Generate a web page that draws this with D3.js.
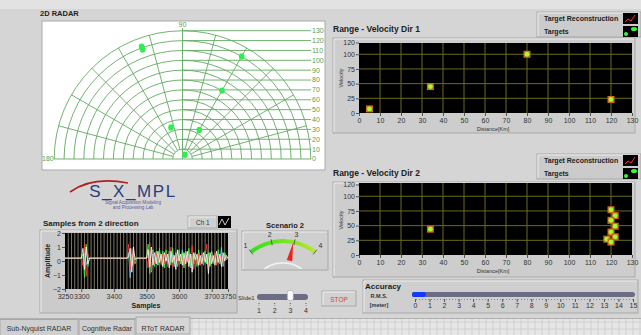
<!DOCTYPE html>
<html>
<head>
<meta charset="utf-8">
<script src="https://cdn.jsdelivr.net/npm/d3@7"></script>
<style>
  body { margin: 0; background: #d5d5d5; }
  svg { display: block; font-family: "Liberation Sans", Arial, sans-serif; }
</style>
</head>
<body>
<div id="panel"></div>
<script>
// ---- data ----
const radarRings = [10, 20, 30, 40, 50, 60, 70, 80, 90, 100, 110, 120, 130];
const radarLabels = [0, 10, 20, 30, 40, 50, 60, 70, 80, 90, 100, 110, 120, 130];
const radarSpokes = [15, 30, 45, 60, 75, 105, 120, 135, 150, 165];
const radarAngle = [60, 60, 60, 60, 110, 110, 110];
const radarRange = [5, 34, 80, 120, 34, 118, 121];

const rvXTicks = [0, 10, 20, 30, 40, 50, 60, 70, 80, 90, 100, 110, 120, 130];
const rvYTicks = [0, 25, 50, 75, 100, 120];
const dir1Dist = [5, 34, 80, 120];
const dir1Vel = [7, 45, 100, 23];
const dir2Dist = [34, 120, 122, 120, 122, 120, 122, 118, 120];
const dir2Vel = [44, 77, 67, 59, 49, 39, 31, 27, 22];

const wfXTicks = [3250, 3300, 3400, 3500, 3600, 3700, 3750];
const wfYTicks = [-2, -1, 0, 1, 2];
const wfGrid = [3260, 3270, 3280, 3290, 3300, 3310, 3320, 3330, 3340, 3350, 3360, 3370, 3380, 3390, 3400,
  3410, 3420, 3430, 3440, 3450, 3460, 3470, 3480, 3490, 3500, 3510, 3520, 3530, 3540, 3550, 3560, 3570,
  3580, 3590, 3600, 3610, 3620, 3630, 3640, 3650, 3660, 3670, 3680, 3690, 3700, 3710, 3720, 3730, 3740];
const wfSamples = [
  3250, 3255, 3260, 3265, 3270, 3275, 3280, 3285, 3290, 3295,
  3300, 3305, 3310, 3315, 3320, 3325, 3330, 3335, 3340, 3345,
  3350, 3355, 3360, 3365, 3370, 3375, 3380, 3385, 3390, 3395,
  3400, 3405, 3410, 3415, 3420, 3425, 3430, 3435, 3440, 3445,
  3450, 3455, 3460, 3465, 3470, 3475, 3480, 3485, 3490, 3495,
  3500, 3505, 3510, 3515, 3520, 3525, 3530, 3535, 3540, 3545,
  3550, 3555, 3560, 3565, 3570, 3575, 3580, 3585, 3590, 3595,
  3600, 3605, 3610, 3615, 3620, 3625, 3630, 3635, 3640, 3645,
  3650, 3655, 3660, 3665, 3670, 3675, 3680, 3685, 3690, 3695,
  3700, 3705, 3710, 3715, 3720, 3725, 3730, 3735, 3740, 3745,
  3750];
const wfCyan = [
  0.2, 0.2, 0.2, 0.2, 0.2, 0.2, 0.2, 0.2, 0.2, 0.2,
  0.2, 0.2, 0.6, -0.3, 0.2, 0.2, 0.2, 0.2, 0.2, 0.2,
  0.2, 0.2, 0.2, 0.2, 0.2, 0.2, 0.2, 0.2, 0.2, 0.2,
  0.2, 0.2, 0.2, 0.2, 0.2, 0.2, 0.2, 0.2, 0.2, 0.6,
  -1.2, 0.5, -0.3, 0.2, 0.2, 0.2, 0.2, 0.2, 0.2, 0.2,
  0.2, 0.3, 0.7, -0.8, 0.5, -0.2, 0.4, -0.3, 0.6, 0.0,
  0.5, -0.3, 0.4, -0.2, 0.7, -0.1, 0.5, -0.4, 0.6, 0.0,
  0.4, -0.2, 0.8, -0.3, 0.5, -0.1, 0.6, -0.5, 0.4, 0.1,
  0.5, -0.2, 0.6, -0.3, 0.4, 0.0, 0.7, -0.2, 0.5, -0.3,
  0.6, -0.1, 0.4, -0.2, 0.5, 0.0, 1.0, -0.4, 0.5, 0.1,
  0.2];
const wfGreen = [
  0.2, 0.2, 0.2, 0.2, 0.2, 0.2, 0.2, 0.2, 0.2, 0.2,
  0.2, 0.5, -1.2, 1.2, -0.4, 0.2, 0.2, 0.2, 0.2, 0.2,
  0.2, 0.2, 0.2, 0.2, 0.2, 0.2, 0.2, 0.2, 0.2, 0.2,
  0.2, 0.2, 0.2, 0.2, 0.2, 0.2, 0.2, 0.2, 0.2, 0.2,
  0.5, -0.4, 0.7, -0.2, 0.2, 0.2, 0.2, 0.2, 0.2, 0.2,
  0.2, 1.2, -0.9, 0.6, 0.8, -0.4, 0.7, -0.3, 0.9, -0.2,
  0.7, -0.5, 0.8, -0.1, 0.6, -0.3, 0.9, -0.2, 0.5, -0.4,
  0.8, -0.2, 0.6, -0.5, 0.7, 0.0, 0.9, -0.3, 0.5, -0.2,
  0.6, -0.4, 0.8, -0.1, 0.5, -0.3, 0.7, -0.2, 0.6, -0.4,
  0.7, -0.1, 0.5, -0.3, 0.8, -0.2, 0.4, -0.1, 0.6, 0.2,
  0.2];
const wfRed = [
  0.2, 0.2, 0.2, 0.2, 0.2, 0.2, 0.2, 0.2, 0.2, 0.2,
  0.2, -0.3, 1.3, -1.1, 0.5, 0.2, 0.2, 0.2, 0.2, 0.2,
  0.2, 0.2, 0.2, 0.2, 0.2, 0.2, 0.2, 0.2, 0.2, 0.2,
  0.2, 0.2, 0.2, 0.2, 0.2, 0.2, 0.2, 0.2, 0.2, 1.2,
  -0.6, 0.9, -0.4, 0.3, 0.2, 0.2, 0.2, 0.2, 0.2, 0.2,
  0.2, -0.5, 1.3, -0.7, 0.4, -0.2, 0.5, 0.0, 0.4, -0.3,
  0.5, -0.2, 0.6, -0.4, 0.3, 1.0, -0.5, 0.4, -0.2, 0.6,
  -0.3, 0.5, -0.1, 0.4, -0.5, 0.6, 0.0, 0.3, 1.1, -0.6,
  0.4, -0.2, 0.5, -0.3, 0.6, -0.1, 0.4, 1.2, -0.4, 0.3,
  0.5, -0.2, 0.6, -0.3, 0.4, 0.0, 0.5, -0.2, 0.3, 0.2,
  0.2];
const wfWhite = [
  0.2, 0.2, 0.2, 0.2, 0.2, 0.2, 0.2, 0.2, 0.2, 0.2,
  0.2, 0.9, -0.6, 1.0, -0.2, 0.2, 0.2, 0.2, 0.2, 0.2,
  0.2, 0.2, 0.2, 0.2, 0.2, 0.2, 0.2, 0.2, 0.2, 0.2,
  0.2, 0.2, 0.2, 0.2, 0.2, 0.2, 0.2, 0.2, 0.2, 0.3,
  0.9, -0.8, 1.0, 0.1, 0.2, 0.2, 0.2, 0.2, 0.2, 0.2,
  0.2, 0.8, -0.4, 1.0, -0.3, 0.6, -0.2, 0.7, -0.1, 0.5,
  -0.4, 0.6, 0.0, 0.5, -0.5, 0.7, -0.1, 0.4, -0.6, 0.8,
  0.0, 0.5, -0.3, 0.6, -0.2, 0.7, -0.4, 0.5, -0.8, 0.6,
  0.1, 0.5, -0.3, 0.4, -0.2, 0.6, -0.1, 0.5, -0.9, 0.6,
  -0.2, 0.4, -0.3, 0.7, -0.1, 0.5, -0.4, 0.6, 0.0, 0.4,
  0.2];

const gaugeTicks = [1, 2, 3, 4];
const gaugeValue = 2.95;
const sliderTicks = [1, 2, 3, 4];
const sliderValue = 3;
const accTicks = [0, 1, 2, 3, 4, 5, 6, 7, 8, 9, 10, 11, 12, 13, 14, 15];
const accValue = 0.75;
const tabNames = ["Sub-Nyquist RADAR", "Cognitive Radar", "RToT RADAR"];

// ---- canvas ----
const svg = d3.select("#panel").append("svg").attr("width", 641).attr("height", 335);
svg.append("rect").attr("width", 641).attr("height", 335).attr("fill", "#d5d5d5");
svg.append("rect").attr("width", 641).attr("height", 9).attr("fill", "#e2e2e2");

const defs = svg.append("defs");

function bevelBox(g, x, y, w, h, fill) {
  g.append("rect").attr("x", x).attr("y", y).attr("width", w).attr("height", h)
    .attr("fill", fill).attr("stroke", "#a9a9a9");
  g.append("path").attr("d", `M${x + 1},${y + h - 1}V${y + 1}H${x + w - 1}`)
    .attr("fill", "none").attr("stroke", "#eeeeee");
}

// ---- 2D radar ----
const radar = svg.append("g");
radar.append("text").attr("x", 40).attr("y", 16).attr("font-size", 7.5).attr("font-weight", "bold")
  .attr("fill", "#222").text("2D RADAR");
radar.append("rect").attr("x", 42).attr("y", 21).attr("width", 283).attr("height", 149)
  .attr("fill", "#fff").attr("stroke", "#aaa");
const cx = 182.5, cy = 159;
const rS = d3.scaleLinear().domain([0, 130]).range([0, 128.3]);
const gridCol = "#63a963";
const xEnd = 311;
const px = (a, r) => cx + rS(r) * Math.cos(a * Math.PI / 180);
const py = (a, r) => cy - rS(r) * Math.sin(a * Math.PI / 180);

radar.append("g").selectAll("line").data(radarLabels).join("line")
  .attr("x1", d => d === 0 ? cx - rS(130) : cx).attr("x2", xEnd)
  .attr("y1", d => cy - rS(d)).attr("y2", d => cy - rS(d))
  .attr("stroke", gridCol).attr("stroke-width", 0.9);
radar.append("g").selectAll("path").data(radarRings).join("path")
  .attr("d", d => `M${cx - rS(d)},${cy}A${rS(d)},${rS(d)} 0 0 1 ${cx + rS(d)},${cy}`)
  .attr("fill", "none").attr("stroke", gridCol).attr("stroke-width", 0.9);
radar.append("g").selectAll("line").data(radarSpokes).join("line")
  .attr("x1", d => px(d, 10)).attr("y1", d => py(d, 10))
  .attr("x2", d => px(d, 130)).attr("y2", d => py(d, 130))
  .attr("stroke", gridCol).attr("stroke-width", 0.9);
radar.append("line").attr("x1", cx).attr("x2", cx).attr("y1", cy).attr("y2", 28)
  .attr("stroke", gridCol).attr("stroke-width", 0.9);
radar.append("g").selectAll("text").data(radarLabels).join("text")
  .attr("x", xEnd + 1).attr("y", d => cy - rS(d)).attr("dy", "0.35em")
  .attr("font-size", 7).attr("fill", "#55a055").text(d => d);
radar.append("text").attr("x", cx).attr("y", 27).attr("text-anchor", "middle")
  .attr("font-size", 7).attr("fill", "#55a055").text("90");
radar.append("text").attr("x", 42).attr("y", cy).attr("dy", "0.35em")
  .attr("font-size", 7).attr("fill", "#55a055").text("180");
radar.append("g").selectAll("ellipse").data(radarAngle).join("ellipse")
  .attr("cx", (d, i) => px(d, radarRange[i])).attr("cy", (d, i) => py(d, radarRange[i]))
  .attr("rx", 2.8).attr("ry", 3.2).attr("fill", "#2cf050");

// ---- range / velocity charts ----
function legend(y) {
  const g = svg.append("g");
  bevelBox(g, 537, y, 104, 25, "#cbcbcb");
  g.append("text").attr("x", 544).attr("y", y + 9).attr("font-size", 7).attr("font-weight", "bold")
    .attr("fill", "#222").text("Target Reconstruction");
  g.append("text").attr("x", 544).attr("y", y + 22).attr("font-size", 7).attr("font-weight", "bold")
    .attr("fill", "#222").text("Targets");
  g.append("rect").attr("x", 623).attr("y", y + 1).attr("width", 15).attr("height", 11).attr("fill", "#000");
  g.append("polyline").attr("points", `625,${y + 10} 628,${y + 7} 631,${y + 9} 635,${y + 3}`)
    .attr("fill", "none").attr("stroke", "#ff3030").attr("stroke-width", 1);
  g.append("rect").attr("x", 623).attr("y", y + 14).attr("width", 15).attr("height", 11).attr("fill", "#000");
  g.append("circle").attr("cx", 626).attr("cy", y + 22).attr("r", 2).attr("fill", "#30ff30");
  g.append("ellipse").attr("cx", 634).attr("cy", y + 17).attr("rx", 3).attr("ry", 2).attr("fill", "#30ff30");
}

function rvChart(title, titleY, frameY, plotTop, plotBottom, dist, vel) {
  const g = svg.append("g");
  g.append("text").attr("x", 333).attr("y", titleY).attr("font-size", 8.5).attr("font-weight", "bold")
    .attr("fill", "#222").text(title);
  bevelBox(g, 333, frameY, 302, 95, "#cdcdcd");
  const x = d3.scaleLinear().domain([0, 130]).range([359, 632]);
  const y = d3.scaleLinear().domain([0, 120]).range([plotBottom, plotBottom - 70.5]);
  g.append("rect").attr("x", 359).attr("y", plotTop).attr("width", 273).attr("height", plotBottom - plotTop)
    .attr("fill", "#000");
  g.append("g").selectAll("line").data(rvXTicks.slice(1, -1)).join("line")
    .attr("x1", d => x(d)).attr("x2", d => x(d)).attr("y1", plotTop).attr("y2", plotBottom)
    .attr("stroke", "#6a6a22").attr("stroke-width", 1);
  g.append("g").selectAll("line").data(rvYTicks.slice(1, -1)).join("line")
    .attr("x1", 359).attr("x2", 632).attr("y1", d => y(d)).attr("y2", d => y(d))
    .attr("stroke", "#6a6a22").attr("stroke-width", 1);
  const ax = g.append("g").attr("transform", `translate(0,${plotBottom})`)
    .call(d3.axisBottom(x).tickValues(rvXTicks).tickSize(3).tickPadding(2));
  const ay = g.append("g").attr("transform", "translate(359,0)")
    .call(d3.axisLeft(y).tickValues(rvYTicks).tickSize(3).tickPadding(1));
  [ax, ay].forEach(a => {
    a.select(".domain").remove();
    a.selectAll("text").attr("font-size", 7).attr("fill", "#333").attr("font-family", "Liberation Sans, Arial");
    a.selectAll("line").attr("stroke", "#555");
  });
  g.append("text").attr("x", 493).attr("y", plotBottom + 17.5).attr("text-anchor", "middle")
    .attr("font-size", 5.5).attr("fill", "#333").text("Distance[Km]");
  g.append("text").attr("transform", `translate(343,${plotBottom - 35}) rotate(-90)`)
    .attr("text-anchor", "middle").attr("font-size", 5.5).attr("fill", "#333").text("Velocity");
  const m = g.append("g").selectAll("g").data(dist).join("g")
    .attr("transform", (d, i) => `translate(${x(d)},${y(vel[i])})`);
  m.append("rect").attr("x", -3.5).attr("y", -3.5).attr("width", 7).attr("height", 7).attr("fill", "#cf6a1c");
  m.append("circle").attr("r", 2.4).attr("fill", "#9cff30");
}
legend(12);
rvChart("Range - Velocity Dir 1", 32, 38, 43, 113, dir1Dist, dir1Vel);
legend(154);
rvChart("Range - Velocity Dir 2", 176, 182, 183, 255, dir2Dist, dir2Vel);

// ---- logo ----
const logo = svg.append("g");
logo.append("path").attr("d", "M70,192 Q92,176 128,183").attr("fill", "none")
  .attr("stroke", "#b02020").attr("stroke-width", 1.6);
logo.append("text").attr("x", 133).attr("y", 197).attr("text-anchor", "middle").attr("font-size", 17)
  .attr("fill", "#2b3d7c").attr("letter-spacing", 1.6).text("S_X_MPL");
logo.append("text").attr("x", 133).attr("y", 203.5).attr("text-anchor", "middle").attr("font-size", 4.6)
  .attr("fill", "#5a5a9a").text("Signal Acquisition Modeling");
logo.append("text").attr("x", 133).attr("y", 208.5).attr("text-anchor", "middle").attr("font-size", 4.6)
  .attr("fill", "#5a5a9a").text("and Processing Lab");

// ---- waveform ----
const wf = svg.append("g");
wf.append("text").attr("x", 43).attr("y", 226).attr("font-size", 8).attr("font-weight", "bold")
  .attr("fill", "#222").text("Samples from 2 direction");
bevelBox(wf, 188, 216, 29, 12, "#d0d0d0");
wf.append("text").attr("x", 196).attr("y", 225).attr("font-size", 6.5).attr("fill", "#333").text("Ch 1");
wf.append("rect").attr("x", 218).attr("y", 216).attr("width", 13).attr("height", 12).attr("fill", "#000");
wf.append("polyline").attr("points", "219,225 222,219 225,225 229,218").attr("fill", "none")
  .attr("stroke", "#fff").attr("stroke-width", 0.8);
bevelBox(wf, 40, 230, 197, 83, "#cbcbcb");
const wx = d3.scaleLinear().domain([3250, 3750]).range([65, 228]);
const wy = d3.scaleLinear().domain([-2, 2]).range([289, 233]);
wf.append("rect").attr("x", 65).attr("y", 233).attr("width", 163).attr("height", 56).attr("fill", "#000");
wf.append("g").selectAll("line").data(wfGrid).join("line")
  .attr("x1", d => wx(d)).attr("x2", d => wx(d)).attr("y1", 233).attr("y2", 289)
  .attr("stroke", "#9c9680").attr("stroke-width", 0.8);
const wline = d3.line().x((d, i) => wx(wfSamples[i])).y(d => wy(d));
[[wfCyan, "#7fc8ff"], [wfGreen, "#36ff36"], [wfRed, "#ff3a3a"], [wfWhite, "#ffffff"]].forEach(([vals, c]) => {
  wf.append("path").attr("d", wline(vals)).attr("fill", "none").attr("stroke", c).attr("stroke-width", 0.8);
});
const wax = wf.append("g").attr("transform", "translate(0,289)")
  .call(d3.axisBottom(wx).tickValues(wfXTicks).tickSize(3).tickPadding(2).tickFormat(d3.format("d")));
const way = wf.append("g").attr("transform", "translate(65,0)")
  .call(d3.axisLeft(wy).tickValues(wfYTicks).tickSize(3).tickPadding(1).tickFormat(d3.format("d")));
[wax, way].forEach(a => {
  a.select(".domain").remove();
  a.selectAll("text").attr("font-size", 7).attr("fill", "#333").attr("font-family", "Liberation Sans, Arial");
  a.selectAll("line").attr("stroke", "#555");
});
wf.append("text").attr("x", 146).attr("y", 308).attr("text-anchor", "middle").attr("font-size", 7)
  .attr("font-weight", "bold").attr("fill", "#222").text("Samples");
wf.append("text").attr("transform", "translate(50,261) rotate(-90)").attr("text-anchor", "middle")
  .attr("font-size", 7).attr("font-weight", "bold").attr("fill", "#222").text("Amplitude");

// ---- gauge ----
const gg = svg.append("g");
gg.append("text").attr("x", 285).attr("y", 228).attr("text-anchor", "middle").attr("font-size", 7.5)
  .attr("font-weight", "bold").attr("fill", "#222").text("Scenario 2");
bevelBox(gg, 242, 231, 86, 39, "#cfcfcf");
defs.append("clipPath").attr("id", "gclip").append("rect")
  .attr("x", 243).attr("y", 232).attr("width", 84).attr("height", 37);
const grad = defs.append("linearGradient").attr("id", "ggrad");
grad.append("stop").attr("offset", "0%").attr("stop-color", "#2ee01a");
grad.append("stop").attr("offset", "100%").attr("stop-color", "#b8e82a");
const gcx = 283, gcy = 293;
const ga = d3.scaleLinear().domain([1, 4]).range([-38, 38]);
const gin = gg.append("g").attr("clip-path", "url(#gclip)");
gin.append("path").attr("transform", `translate(${gcx},${gcy})`)
  .attr("d", d3.arc()({ innerRadius: 50, outerRadius: 54, startAngle: ga(1) * Math.PI / 180, endAngle: ga(4) * Math.PI / 180 }))
  .attr("fill", "url(#ggrad)");
gin.append("path").attr("d", `M${gcx - 22},${gcy - 21}A31,31 0 0 1 ${gcx + 22},${gcy - 21}`)
  .attr("fill", "none").attr("stroke", "#f2f2f2").attr("stroke-width", 1.6);
gin.selectAll("line.tk").data(gaugeTicks).join("line")
  .attr("x1", d => gcx + 49 * Math.sin(ga(d) * Math.PI / 180)).attr("y1", d => gcy - 49 * Math.cos(ga(d) * Math.PI / 180))
  .attr("x2", d => gcx + 55 * Math.sin(ga(d) * Math.PI / 180)).attr("y2", d => gcy - 55 * Math.cos(ga(d) * Math.PI / 180))
  .attr("stroke", "#444").attr("stroke-width", 0.8);
gin.selectAll("text").data(gaugeTicks).join("text")
  .attr("x", d => gcx + 61 * Math.sin(ga(d) * Math.PI / 180)).attr("y", d => gcy - 60 * Math.cos(ga(d) * Math.PI / 180))
  .attr("dy", "0.35em").attr("text-anchor", "middle").attr("font-size", 7).attr("fill", "#333").text(d => d);
const na = ga(gaugeValue) * Math.PI / 180;
const nx = r => gcx + r * Math.sin(na), ny = r => gcy - r * Math.cos(na);
gin.append("path").attr("fill", "#f0201a")
  .attr("d", `M${nx(33) - 2.8 * Math.cos(na)},${ny(33) - 2.8 * Math.sin(na)}L${nx(51)},${ny(51)}L${nx(33) + 2.8 * Math.cos(na)},${ny(33) + 2.8 * Math.sin(na)}Z`);

// ---- slider ----
const sl = svg.append("g");
const sx = d3.scaleLinear().domain([1, 4]).range([259, 306]);
sl.append("text").attr("x", 238).attr("y", 299.5).attr("font-size", 6).attr("fill", "#333").text("Slide1");
sl.append("rect").attr("x", 257).attr("y", 294).attr("width", 51).attr("height", 6).attr("rx", 3)
  .attr("fill", "#6c6c84");
sl.append("rect").attr("x", sx(sliderValue) - 3).attr("y", 290.5).attr("width", 6).attr("height", 10).attr("rx", 2)
  .attr("fill", "#fafafa").attr("stroke", "#999").attr("stroke-width", 0.5);
sl.selectAll("line").data(sliderTicks).join("line")
  .attr("x1", d => sx(d)).attr("x2", d => sx(d)).attr("y1", 303).attr("y2", 305.5)
  .attr("stroke", "#555").attr("stroke-dasharray", "1,1");
sl.selectAll("text.t").data(sliderTicks).join("text").attr("class", "t")
  .attr("x", d => sx(d)).attr("y", 313).attr("text-anchor", "middle").attr("font-size", 7)
  .attr("fill", "#333").text(d => d);

// ---- stop button ----
bevelBox(svg, 322, 291, 34, 15, "#d2d2d2");
svg.append("text").attr("x", 339).attr("y", 301.5).attr("text-anchor", "middle").attr("font-size", 6.5)
  .attr("fill", "#e03838").text("STOP");

// ---- accuracy ----
const acc = svg.append("g");
bevelBox(acc, 363, 280, 275, 33, "#cfcfcf");
acc.append("text").attr("x", 365).attr("y", 289).attr("font-size", 8).attr("font-weight", "bold")
  .attr("fill", "#222").text("Accuracy");
acc.append("text").attr("x", 379).attr("y", 298).attr("text-anchor", "middle").attr("font-size", 5.5)
  .attr("font-weight", "bold").attr("fill", "#333").text("R.M.S.");
acc.append("text").attr("x", 379).attr("y", 307).attr("text-anchor", "middle").attr("font-size", 5.5)
  .attr("font-weight", "bold").attr("fill", "#333").text("[meter]");
const axs = d3.scaleLinear().domain([0, 15]).range([415, 633]);
acc.append("rect").attr("x", 412).attr("y", 292).attr("width", 223).attr("height", 5).attr("rx", 2.5)
  .attr("fill", "#6c6c84");
acc.append("rect").attr("x", 412).attr("y", 292).attr("width", axs(accValue) - 412).attr("height", 5).attr("rx", 2)
  .attr("fill", "#1438ff");
const aax = acc.append("g").attr("transform", "translate(0,299)")
  .call(d3.axisBottom(axs).tickValues(accTicks).tickSize(3).tickPadding(1));
aax.select(".domain").attr("stroke", "#888").attr("stroke-dasharray", "1,2");
aax.selectAll("text").attr("font-size", 7).attr("fill", "#333").attr("font-family", "Liberation Sans, Arial");
aax.selectAll("line").attr("stroke", "#555");

// ---- tabs ----
const tabs = svg.append("g");
tabs.append("rect").attr("x", 0).attr("y", 319).attr("width", 641).attr("height", 16).attr("fill", "#e6e6e6");
const cells = d3.range(192, 641, 7);
tabs.selectAll("line.gv").data(cells).join("line").attr("class", "gv")
  .attr("x1", d => d).attr("x2", d => d).attr("y1", 319).attr("y2", 335).attr("stroke", "#d0d0d0");
tabs.selectAll("line.gh").data([322, 329]).join("line").attr("class", "gh")
  .attr("x1", 190).attr("x2", 641).attr("y1", d => d).attr("y2", d => d).attr("stroke", "#d0d0d0");
tabs.append("line").attr("x1", 0).attr("x2", 641).attr("y1", 318.5).attr("y2", 318.5).attr("stroke", "#b0b0b0");
const tabX = [0, 79, 136], tabW = [78, 56, 54];
tabNames.forEach((t, i) => {
  tabs.append("rect").attr("x", tabX[i]).attr("y", i === 2 ? 317 : 319.5).attr("width", tabW[i])
    .attr("height", 17).attr("fill", i === 2 ? "#d5d5d5" : "#cfcfcf").attr("stroke", "#a8a8a8");
  tabs.append("text").attr("x", tabX[i] + tabW[i] / 2).attr("y", 331).attr("text-anchor", "middle")
    .attr("font-size", 7).attr("fill", "#333").text(t);
});
</script>
</body>
</html>
